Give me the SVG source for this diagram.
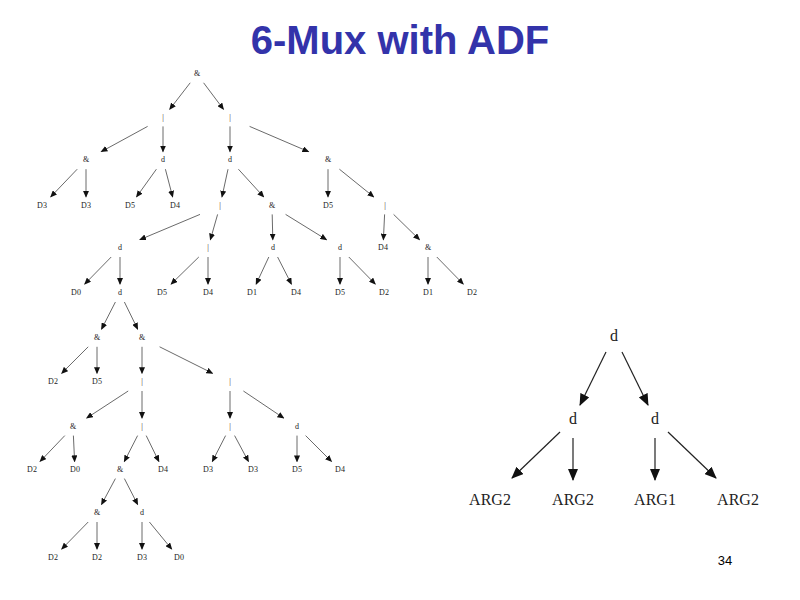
<svg xmlns="http://www.w3.org/2000/svg" width="800" height="600" viewBox="0 0 800 600">
<style>
.t{font-family:"Liberation Serif",serif;font-size:8px;fill:#222;text-anchor:middle;dominant-baseline:middle}
.T{font-family:"Liberation Serif",serif;font-size:16px;fill:#222;text-anchor:middle;dominant-baseline:middle}
.e line{stroke:#444;stroke-width:0.8;marker-end:url(#a)}
.E line{stroke:#222;stroke-width:1.2;marker-end:url(#b)}
</style>
<defs>
<marker id="a" markerUnits="userSpaceOnUse" markerWidth="7" markerHeight="6" refX="6" refY="3" orient="auto"><path d="M0,0L7,3L0,6z" fill="#111"/></marker>
<marker id="b" markerUnits="userSpaceOnUse" markerWidth="12" markerHeight="10" refX="11" refY="5" orient="auto"><path d="M0,0L12,5L0,10z" fill="#111"/></marker>
</defs>
<rect width="800" height="600" fill="#fff"/>
<text x="400" y="54" font-family="Liberation Sans,Arial,sans-serif" font-size="40" font-weight="bold" fill="#3333aa" text-anchor="middle">6-Mux with ADF</text>
<text x="725" y="565" font-family="Liberation Sans,Arial,sans-serif" font-size="13" fill="#000" text-anchor="middle">34</text>
<g id="connectors" class="e">
<line x1="190.2" y1="82.8" x2="169.8" y2="109.2"/>
<line x1="203.6" y1="82.8" x2="223.4" y2="109.2"/>
<line x1="147.6" y1="126.4" x2="101.4" y2="151.6"/>
<line x1="163" y1="126.4" x2="163" y2="151.6"/>
<line x1="230" y1="126.4" x2="230" y2="151.6"/>
<line x1="249.6" y1="126.4" x2="308.4" y2="151.6"/>
<line x1="77.2" y1="169.2" x2="50.8" y2="196.8"/>
<line x1="86" y1="169.2" x2="86" y2="196.8"/>
<line x1="156.4" y1="169.2" x2="136.6" y2="196.8"/>
<line x1="165.4" y1="169.2" x2="172.6" y2="196.8"/>
<line x1="228" y1="169.2" x2="222" y2="196.8"/>
<line x1="238.4" y1="169.2" x2="263.6" y2="196.8"/>
<line x1="328" y1="169.2" x2="328" y2="196.8"/>
<line x1="339.4" y1="169.2" x2="373.6" y2="196.8"/>
<line x1="200" y1="214.4" x2="140" y2="239.6"/>
<line x1="217.6" y1="214.4" x2="210.4" y2="239.6"/>
<line x1="272.2" y1="214.4" x2="272.8" y2="239.6"/>
<line x1="285.6" y1="214.4" x2="326.4" y2="239.6"/>
<line x1="384.6" y1="214.4" x2="383.4" y2="239.6"/>
<line x1="393.6" y1="214.4" x2="419.4" y2="239.6"/>
<line x1="111.2" y1="257" x2="84.8" y2="284"/>
<line x1="120" y1="257" x2="120" y2="284"/>
<line x1="198.8" y1="257" x2="171.2" y2="284"/>
<line x1="208" y1="257" x2="208" y2="284"/>
<line x1="268.8" y1="257" x2="256.2" y2="284"/>
<line x1="277.6" y1="257" x2="291.4" y2="284"/>
<line x1="340" y1="257" x2="340" y2="284"/>
<line x1="348.8" y1="257" x2="375.2" y2="284"/>
<line x1="428" y1="257" x2="428" y2="284"/>
<line x1="436.8" y1="257" x2="463.2" y2="284"/>
<line x1="115.4" y1="302" x2="101.6" y2="329"/>
<line x1="124.4" y1="302" x2="137.6" y2="329"/>
<line x1="88.2" y1="346.8" x2="61.8" y2="373.2"/>
<line x1="97" y1="346.8" x2="97" y2="373.2"/>
<line x1="142" y1="346.8" x2="142" y2="373.2"/>
<line x1="159.6" y1="346.8" x2="212.4" y2="373.2"/>
<line x1="128.2" y1="391" x2="86.8" y2="418"/>
<line x1="142" y1="391" x2="142" y2="418"/>
<line x1="230" y1="391" x2="230" y2="418"/>
<line x1="243.4" y1="391" x2="283.6" y2="418"/>
<line x1="64.8" y1="435.6" x2="40.2" y2="461.4"/>
<line x1="73.4" y1="435.6" x2="74.6" y2="461.4"/>
<line x1="137.6" y1="435.6" x2="124.4" y2="461.4"/>
<line x1="146.2" y1="435.6" x2="158.8" y2="461.4"/>
<line x1="225.6" y1="435.6" x2="212.4" y2="461.4"/>
<line x1="234.6" y1="435.6" x2="248.4" y2="461.4"/>
<line x1="297" y1="435.6" x2="297" y2="461.4"/>
<line x1="305.6" y1="435.6" x2="331.4" y2="461.4"/>
<line x1="115.4" y1="478.6" x2="101.6" y2="504.4"/>
<line x1="124.4" y1="478.6" x2="137.6" y2="504.4"/>
<line x1="88.2" y1="522" x2="61.8" y2="549"/>
<line x1="97" y1="522" x2="97" y2="549"/>
<line x1="142" y1="522" x2="142" y2="549"/>
<line x1="149.4" y1="522" x2="171.6" y2="549"/>
</g>
<g id="connectors-adf" class="E">
<line x1="606" y1="352" x2="580" y2="405"/>
<line x1="622" y1="352" x2="648" y2="405"/>
<line x1="560" y1="432" x2="512" y2="478"/>
<line x1="573" y1="438" x2="573" y2="480"/>
<line x1="655" y1="438" x2="655" y2="480"/>
<line x1="668" y1="432" x2="716" y2="478"/>
</g>
<g id="nodes">
<text id="n0" class="t" x="197" y="74">&amp;</text>
<text id="n1" class="t" x="163" y="118">|</text>
<text id="n2" class="t" x="230" y="118">|</text>
<text id="n3" class="t" x="86" y="160">&amp;</text>
<text id="n4" class="t" x="163" y="160">d</text>
<text id="n5" class="t" x="230" y="160">d</text>
<text id="n6" class="t" x="328" y="160">&amp;</text>
<text id="n7" class="t" x="42" y="206">D3</text>
<text id="n8" class="t" x="86" y="206">D3</text>
<text id="n9" class="t" x="130" y="206">D5</text>
<text id="n10" class="t" x="175" y="206">D4</text>
<text id="n11" class="t" x="220" y="206">|</text>
<text id="n12" class="t" x="272" y="206">&amp;</text>
<text id="n13" class="t" x="328" y="206">D5</text>
<text id="n14" class="t" x="385" y="206">|</text>
<text id="n15" class="t" x="120" y="248">d</text>
<text id="n16" class="t" x="208" y="248">|</text>
<text id="n17" class="t" x="273" y="248">d</text>
<text id="n18" class="t" x="340" y="248">d</text>
<text id="n19" class="t" x="383" y="248">D4</text>
<text id="n20" class="t" x="428" y="248">&amp;</text>
<text id="n21" class="t" x="76" y="293">D0</text>
<text id="n22" class="t" x="120" y="293">d</text>
<text id="n23" class="t" x="162" y="293">D5</text>
<text id="n24" class="t" x="208" y="293">D4</text>
<text id="n25" class="t" x="252" y="293">D1</text>
<text id="n26" class="t" x="296" y="293">D4</text>
<text id="n27" class="t" x="340" y="293">D5</text>
<text id="n28" class="t" x="384" y="293">D2</text>
<text id="n29" class="t" x="428" y="293">D1</text>
<text id="n30" class="t" x="472" y="293">D2</text>
<text id="n31" class="t" x="97" y="338">&amp;</text>
<text id="n32" class="t" x="142" y="338">&amp;</text>
<text id="n33" class="t" x="53" y="382">D2</text>
<text id="n34" class="t" x="97" y="382">D5</text>
<text id="n35" class="t" x="142" y="382">|</text>
<text id="n36" class="t" x="230" y="382">|</text>
<text id="n37" class="t" x="73" y="427">&amp;</text>
<text id="n38" class="t" x="142" y="427">|</text>
<text id="n39" class="t" x="230" y="427">|</text>
<text id="n40" class="t" x="297" y="427">d</text>
<text id="n41" class="t" x="32" y="470">D2</text>
<text id="n42" class="t" x="75" y="470">D0</text>
<text id="n43" class="t" x="120" y="470">&amp;</text>
<text id="n44" class="t" x="163" y="470">D4</text>
<text id="n45" class="t" x="208" y="470">D3</text>
<text id="n46" class="t" x="253" y="470">D3</text>
<text id="n47" class="t" x="297" y="470">D5</text>
<text id="n48" class="t" x="340" y="470">D4</text>
<text id="n49" class="t" x="97" y="513">&amp;</text>
<text id="n50" class="t" x="142" y="513">d</text>
<text id="n51" class="t" x="53" y="558">D2</text>
<text id="n52" class="t" x="97" y="558">D2</text>
<text id="n53" class="t" x="142" y="558">D3</text>
<text id="n54" class="t" x="179" y="558">D0</text>
</g>
<g id="adf">
<text id="a0" class="T" x="614" y="337">d</text>
<text id="a1" class="T" x="573" y="420">d</text>
<text id="a2" class="T" x="655" y="420">d</text>
<text id="a3" class="T" x="490" y="501">ARG2</text>
<text id="a4" class="T" x="573" y="501">ARG2</text>
<text id="a5" class="T" x="655" y="501">ARG1</text>
<text id="a6" class="T" x="738" y="501">ARG2</text>
</g>
</svg>
